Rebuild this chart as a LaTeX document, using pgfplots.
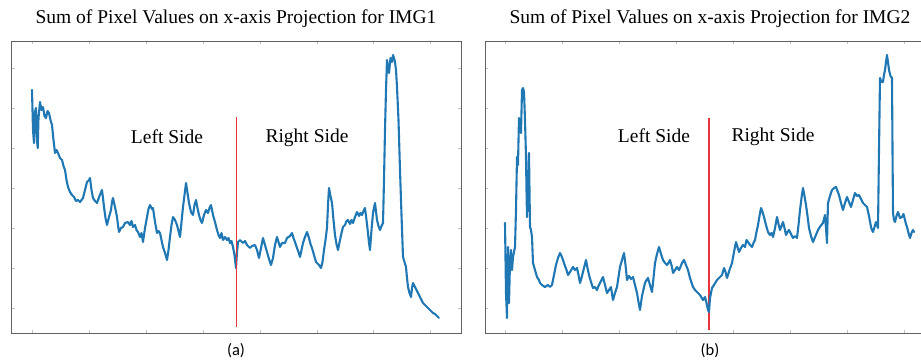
\documentclass[border=0pt]{standalone}
\usepackage{pgfplots}
\pgfplotsset{compat=1.18}
\usepackage{fontspec}
\setmainfont{Liberation Serif}
\newfontfamily\capfont{Carlito}

\definecolor{lineblue}{RGB}{31,119,180}
\definecolor{dividerred}{RGB}{232,50,60}

\tikzset{sidelabel/.style={font=\fontsize{19.5}{22}\selectfont}}

\pgfplotsset{
  panel/.style={
    scale only axis,
    height=292pt,
    ymin=0, ymax=292,
    axis line style={draw=black!62, line width=1pt},
    xticklabels={}, yticklabels={},
    tick align=inside,
    major tick length=3pt,
    tick style={black!25, line width=0.5pt},
    ytick={25,65,105,145,185,225,265},
  },
  profile/.style={lineblue, line width=2.1pt, line join=round, line cap=round},
}

\begin{document}
\begin{tikzpicture}[x=1pt,y=1pt]
\path[use as bounding box] (0,0) rectangle (921,360);

% ---------------- IMG1 ----------------
\begin{axis}[panel, at={(12,27)}, anchor=south west,
  width=449pt, xmin=12, xmax=461,
  xtick={32,89,146,203,260,317,373,430}]
\addplot[profile] coordinates {
(32,243) (33,203) (34,190) (35,221) (36,225) (37,193) (37.7,185) (38.5,215)
(40,231) (41.5,223) (43,226) (44.5,217) (46,215) (47.5,222) (49,220) (50.5,213)
(52,208) (53.5,193) (55,180) (56.5,183) (58,180) (60,175) (62,173) (63.5,167)
(65,163) (66.5,153) (68,146) (70,141) (72,138) (74,136) (76,132) (78,133)
(80,131) (83,135) (85,143) (87,151) (89,153) (90,155) (91.5,143) (93,135)
(95,132) (97,130) (99.5,137) (102,143) (103,135) (104,126) (105.5,115) (107,108)
(109,116) (111,123) (112,131) (113,135) (115,126) (117,116) (118,108) (119,101)
(121,105) (123,106) (125,110) (128,111) (130,108) (131.5,112) (133,106) (135,108)
(136.5,103) (138,101) (140,96) (141.5,100) (143,91) (145,105) (147,116) (148.5,124)
(150,128) (152,124) (153,125) (155,111) (157,100) (158.5,102) (160,100) (161.5,93)
(163,86) (165,80) (167,73) (168.5,83) (170,96) (171.5,108) (173,116) (175,113)
(177,108) (178.5,102) (180,96) (181.5,111) (183,126) (184.5,138) (186,150) (187.5,140)
(189,130) (191,121) (193,118) (194.5,128) (196,133) (197.5,125) (199,118) (200.5,113)
(202,110) (204,118) (206,123) (208,120) (209.5,125) (211,128) (213,118) (215,111)
(217,103) (218.5,98) (220,95) (221.5,100) (223,93) (225,96) (227,93) (228.5,95)
(230,90) (231.5,92) (233,86) (234.5,78) (236,65) (237,81) (238,91) (240,93)
(243,90) (245,92) (247,88) (250,85) (252,87) (255,88) (257,83) (259,75)
(261,85) (263,95) (265,88) (267,81) (269,74) (271,68) (273,75) (275,88)
(277,96) (278.5,91) (280,86) (282,90) (285,90) (287,95) (290,97) (292,100)
(293.5,95) (295,91) (297,85) (298.5,81) (300,76) (301.5,83) (303,90) (305,96)
(307,101) (309,95) (310.5,89) (312,85) (314,78) (316,71) (317,70) (319,68)
(321,65) (322.5,71) (324,83) (325.5,93) (327,105) (328,128) (329,145) (330.5,137)
(332,130) (333.5,113) (335,98) (336.5,89) (338,83) (340,93) (341.5,100) (343,106)
(345,108) (346.5,112) (348,113) (350,109) (351.5,113) (353,110) (355,116) (357,121)
(359,117) (360.5,120) (362,118) (363.5,122) (365,125) (366.5,113) (368,100) (369,90)
(370,83) (371.5,103) (373,120) (374,125) (375,130) (377,113) (378.5,107) (380,103)
(381.5,107) (383,110) (384,153) (385,203) (386,243) (387,273) (388,265) (389,260)
(390.5,275) (392,271) (393,278) (394,275) (395,271) (396,263) (397,246) (398.5,213)
(400,163) (401.5,118) (403,76) (404.5,71) (406,66) (407,55) (408,46) (409.5,40)
(411,36) (412,45) (413,50) (415,46) (418,40) (420,36) (423,30) (425,28)
(428,25) (430,23) (433,20) (435,19) (437,17) (439,15)
};
\addplot[color=dividerred, line width=1.3pt, forget plot] coordinates {(236.5,6) (236.5,216)};
\node[sidelabel] at (axis cs:167,196) {Left Side};
\node[sidelabel] at (axis cs:307,195) {Right Side};
\end{axis}

% ---------------- IMG2 ----------------
\begin{axis}[panel, at={(485,27)}, anchor=south west,
  width=440pt, xmin=485, xmax=925,
  xtick={505,562,619,676,733,790,847,904}]
\addplot[color=dividerred, line width=1.6pt, forget plot] coordinates {(709,3) (709,215)};
\addplot[profile] coordinates {
(505,110) (506,40) (507,15) (508,86) (509,30) (510,71) (511,83) (512,63)
(513,76) (514,81) (515,86) (516,123) (517,176) (518,168) (518.5,193) (519,215)
(520,208) (521,200) (522,243) (523,245) (524,241) (525,213) (526,176) (526.5,143)
(527,116) (528,143) (529,180) (529.5,143) (530,106) (531,103) (532,96) (533,70)
(535,63) (537,56) (539,53) (540,50) (542,48) (545,46) (548,48) (550,46)
(552,48) (554,58) (556,68) (558,75) (560,80) (561.5,77) (563,73) (565,67)
(566.5,63) (568,58) (570,61) (573,66) (575,63) (577,65) (578.5,58) (580,50)
(581.5,55) (583,61) (585,69) (586,73) (587.5,65) (589,58) (591,51) (593,45)
(595,46) (597,43) (598.5,47) (600,50) (601.5,53) (603,56) (605,48) (607,40)
(609,43) (611,46) (612,39) (613,33) (615,40) (617,46) (618.5,56) (620,66)
(622,73) (624,80) (625.5,68) (627,53) (629,57) (631,54) (633,56) (635,48)
(637,40) (638.5,31) (640,23) (642,37) (645,50) (646.5,53) (648,55) (650,48)
(652,41) (653.5,55) (655,70) (657,79) (659,86) (661,79) (663,73) (665,70)
(667,68) (669,71) (670,73) (672,66) (673,60) (675,63) (677,66) (679,63)
(680,65) (682,70) (684,73) (686,68) (688,63) (690,55) (693,46) (695,43)
(698,40) (700,38) (703,33) (705,36) (707,28) (708,23) (709,21) (710,35)
(712,45) (714,48) (717,53) (719,55) (722,58) (724,65) (725.5,61) (727,55)
(729.5,63) (732,70) (734,81) (736,91) (737.5,86) (739,81) (741,85) (743,88)
(745,86) (746.5,93) (748,91) (750,88) (752,86) (753.5,90) (755,93) (756.5,101)
(758,108) (759.5,117) (761,125) (762.5,121) (764,116) (766,108) (768,101) (770,98)
(771.5,100) (773,96) (775,105) (777,116) (778.5,109) (780,103) (781.5,107) (783,111)
(784.5,105) (786,98) (787.5,101) (789,103) (791,99) (793,95) (795,97) (797,95)
(798.5,108) (800,123) (801.5,135) (803,145) (804.5,137) (806,128) (807.5,117) (809,105)
(811,97) (813,91) (815.5,97) (818,103) (820.5,107) (823,110) (824,114) (825,118)
(826,105) (827,90) (827.5,111) (828,130) (830,137) (832,143) (834,145) (836,146)
(837.5,142) (839,138) (841,130) (843,123) (845,130) (847,136) (849,131) (851,126)
(853,133) (855,140) (857,137) (859,138) (861,134) (863,130) (865,128) (867,126)
(869,117) (871,106) (872,103) (873,101) (874.5,106) (876,111) (877,108) (878,105)
(879,183) (880,255) (881.5,251) (883,251) (884,258) (885,263) (886,271) (887,278)
(888,271) (889,263) (890.5,257) (892,255) (892.5,183) (893,120) (894,113) (895,111)
(896.5,117) (898,121) (900,115) (902,116) (903.5,119) (905,113) (906,109) (907,106)
(908.5,100) (910,95) (911.5,100) (913,103) (914,101)
};
\node[sidelabel] at (axis cs:654,197) {Left Side};
\node[sidelabel] at (axis cs:773,196) {Right Side};
\end{axis}

% titles and captions
\node[font=\fontsize{19.5}{22}\selectfont] at (236,341) {Sum of Pixel Values on x-axis Projection for IMG1};
\node[font=\fontsize{19.5}{22}\selectfont] at (710,341) {Sum of Pixel Values on x-axis Projection for IMG2};
\node[font=\capfont\fontsize{16.5}{18}\selectfont] at (236,9) {(a)};
\node[font=\capfont\fontsize{16.5}{18}\selectfont] at (710,9) {(b)};
\end{tikzpicture}
\end{document}
